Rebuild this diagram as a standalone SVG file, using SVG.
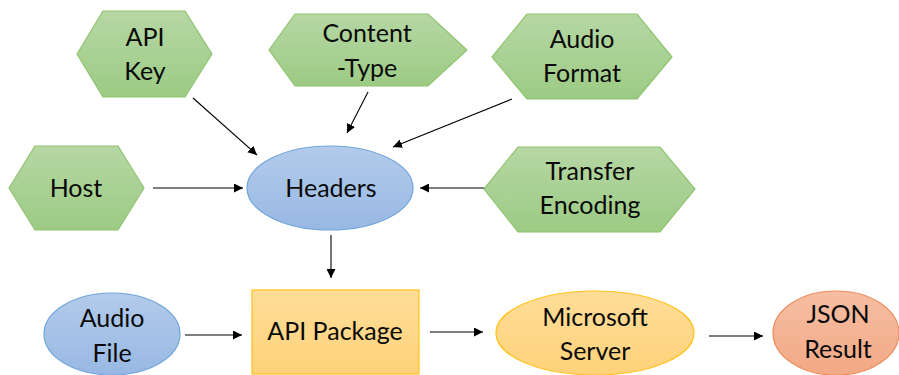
<svg xmlns="http://www.w3.org/2000/svg" width="899" height="375" viewBox="0 0 899 375">
  <defs>
    <linearGradient id="gGreen" x1="0" y1="0" x2="0" y2="1">
      <stop offset="0" stop-color="#b6d7a4"/>
      <stop offset="1" stop-color="#9ccb84"/>
    </linearGradient>
    <linearGradient id="gBlue" x1="0" y1="0" x2="0" y2="1">
      <stop offset="0" stop-color="#b3cbeb"/>
      <stop offset="1" stop-color="#98b8e3"/>
    </linearGradient>
    <linearGradient id="gGold" x1="0" y1="0" x2="0" y2="1">
      <stop offset="0" stop-color="#ffdd98"/>
      <stop offset="1" stop-color="#ffd27a"/>
    </linearGradient>
    <linearGradient id="gSalmon" x1="0" y1="0" x2="0" y2="1">
      <stop offset="0" stop-color="#f6bea3"/>
      <stop offset="1" stop-color="#f2a985"/>
    </linearGradient>
    <marker id="arrow" viewBox="0 0 10 10" refX="10" refY="5" markerWidth="9" markerHeight="9" markerUnits="userSpaceOnUse" orient="auto">
      <path d="M0,0 L10,5 L0,10 Z" fill="#000"/>
    </marker>
  </defs>
  <style>
    .hex { fill: url(#gGreen); stroke: #8fc46f; stroke-width: 1.2; }
    .blue { fill: url(#gBlue); stroke: #6fa5da; stroke-width: 1.2; }
    .gold { fill: url(#gGold); stroke: #ffc21a; stroke-width: 1.2; }
    .salmon { fill: url(#gSalmon); stroke: #ee8a58; stroke-width: 1.2; }
    .lbl { font-family: "Lato", "Liberation Sans", sans-serif; font-size: 25px; fill: #0a0a0a; text-anchor: middle; }
    .conn line { stroke: #000; stroke-width: 1.1; marker-end: url(#arrow); }
  </style>

  <rect width="899" height="375" fill="#fff"/>

  <g id="api-key">
    <polygon class="hex" points="77,54 103,11 185,11 212,54 185,97 103,97"/>
    <text class="lbl" x="145" y="46">API</text>
    <text class="lbl" x="145" y="80">Key</text>
  </g>
  <g id="content-type">
    <polygon class="hex" points="269,50 295,14 428,14 467,50 428,86 295,86"/>
    <text class="lbl" x="367" y="42">Content</text>
    <text class="lbl" x="367" y="77">-Type</text>
  </g>
  <g id="audio-format">
    <polygon class="hex" points="492,57 527,14 637,14 672,57 637,99 527,99"/>
    <text class="lbl" x="582" y="48">Audio</text>
    <text class="lbl" x="582" y="82">Format</text>
  </g>
  <g id="host">
    <polygon class="hex" points="9,188 35,146 118,146 144,188 118,230 35,230"/>
    <text class="lbl" x="76" y="197">Host</text>
  </g>
  <g id="transfer-encoding">
    <polygon class="hex" points="484,189 518,147 660,147 695,189 660,232 518,232"/>
    <text class="lbl" x="590" y="180">Transfer</text>
    <text class="lbl" x="590" y="214">Encoding</text>
  </g>
  <g id="headers">
    <ellipse class="blue" cx="330" cy="188" rx="83" ry="42"/>
    <text class="lbl" x="331" y="197">Headers</text>
  </g>
  <g id="audio-file">
    <ellipse class="blue" cx="112" cy="334" rx="68" ry="41"/>
    <text class="lbl" x="112" y="327">Audio</text>
    <text class="lbl" x="112" y="362">File</text>
  </g>
  <g id="api-package">
    <rect class="gold" x="252" y="290" width="167" height="84"/>
    <text class="lbl" x="335" y="340">API Package</text>
  </g>
  <g id="microsoft-server">
    <ellipse class="gold" cx="595" cy="333" rx="99" ry="42"/>
    <text class="lbl" x="595" y="326">Microsoft</text>
    <text class="lbl" x="595" y="360">Server</text>
  </g>
  <g id="json-result">
    <ellipse class="salmon" cx="836" cy="333" rx="63" ry="42"/>
    <text class="lbl" x="838" y="323">JSON</text>
    <text class="lbl" x="838" y="358">Result</text>
  </g>

  <g id="connectors" class="conn">
    <line x1="193" y1="98" x2="257" y2="155"/>
    <line x1="368" y1="92" x2="347" y2="133"/>
    <line x1="512" y1="99" x2="393" y2="147"/>
    <line x1="153" y1="188" x2="243" y2="188"/>
    <line x1="484" y1="188" x2="420" y2="188"/>
    <line x1="331" y1="235" x2="331" y2="278"/>
    <line x1="185" y1="335" x2="242" y2="335"/>
    <line x1="430" y1="332" x2="483" y2="332"/>
    <line x1="709" y1="336" x2="763" y2="336"/>
  </g>
</svg>
